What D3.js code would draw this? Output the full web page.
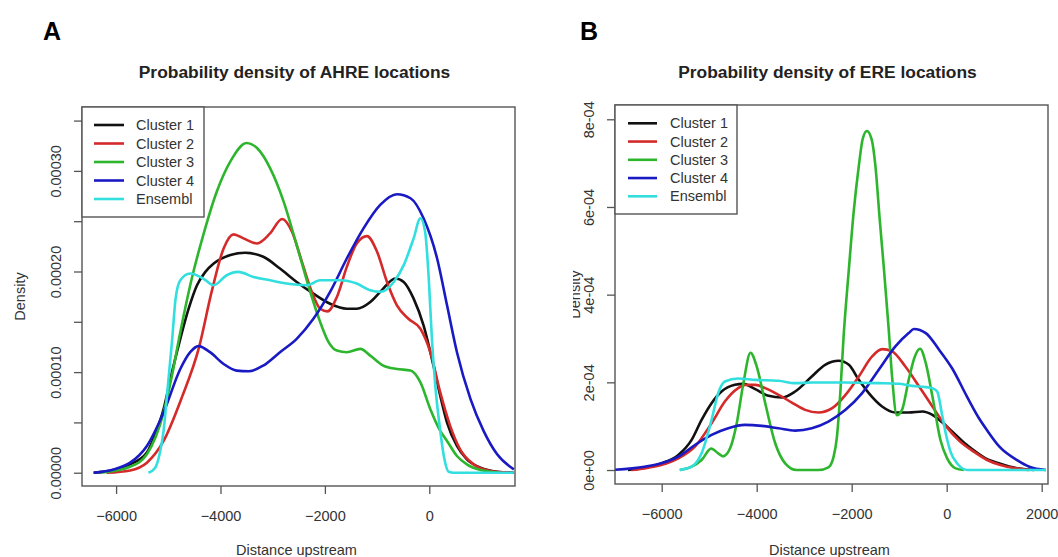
<!DOCTYPE html>
<html>
<head>
<meta charset="UTF-8">
<title>Probability density of AHRE / ERE locations</title>
<style>
  body { margin: 0; background: #fff; }
  svg { display: block; font-family: "Liberation Sans", Arial, sans-serif; }
</style>
</head>
<body>
<svg></svg>
<script src="https://d3js.org/d3.v7.min.js"></script>
<script>

let width = 1058, height = 557;

// legend / series
const seriesNames = ["Cluster 1", "Cluster 2", "Cluster 3", "Cluster 4", "Ensembl"];
const seriesColors = ["#111111", "#d42a2a", "#2eb52e", "#1a1ac4", "#32dede"];

// Panel A - AHRE, [distance upstream, density]
const ahreC1 = [[-6430,0],[-6050,2.7e-6],[-5730,8.3e-6],[-5410,2.0e-5],[-5250,3.83e-5],[-5090,6.32e-5],[-4930,9.98e-5],[-4770,1.331e-4],[-4610,1.630e-4],[-4450,1.863e-4],[-4290,1.996e-4],[-4130,2.079e-4],[-3810,2.163e-4],[-3530,2.186e-4],[-3180,2.146e-4],[-2860,2.029e-4],[-2540,1.896e-4],[-2220,1.780e-4],[-1900,1.680e-4],[-1580,1.630e-4],[-1390,1.630e-4],[-1130,1.697e-4],[-940,1.797e-4],[-650,1.930e-4],[-490,1.896e-4],[-300,1.730e-4],[-110,1.464e-4],[80,1.065e-4],[210,7.65e-5],[340,4.99e-5],[530,2.66e-5],[720,1.33e-5],[980,5.0e-6],[1300,1.0e-6],[1620,0]];
const ahreC2 = [[-6180,0],[-5730,2.3e-6],[-5410,1.0e-5],[-5090,3.16e-5],[-4740,7.49e-5],[-4410,1.248e-4],[-4170,1.797e-4],[-3940,2.229e-4],[-3750,2.369e-4],[-3560,2.329e-4],[-3300,2.279e-4],[-3050,2.379e-4],[-2820,2.522e-4],[-2630,2.395e-4],[-2440,2.096e-4],[-2250,1.797e-4],[-2090,1.630e-4],[-1950,1.604e-4],[-1770,1.747e-4],[-1580,2.046e-4],[-1390,2.279e-4],[-1195,2.352e-4],[-1000,2.196e-4],[-810,1.896e-4],[-620,1.664e-4],[-400,1.530e-4],[-170,1.431e-4],[20,1.198e-4],[210,7.98e-5],[400,4.66e-5],[590,2.33e-5],[850,8.3e-6],[1170,1.7e-6],[1550,0]];
const ahreC3 = [[-6310,0],[-5730,6.0e-6],[-5410,1.83e-5],[-5090,5.99e-5],[-4930,9.65e-5],[-4770,1.397e-4],[-4550,1.930e-4],[-4330,2.362e-4],[-4070,2.795e-4],[-3810,3.094e-4],[-3500,3.277e-4],[-3300,3.227e-4],[-3050,3.028e-4],[-2790,2.695e-4],[-2540,2.262e-4],[-2280,1.797e-4],[-2090,1.497e-4],[-1930,1.298e-4],[-1770,1.214e-4],[-1580,1.198e-4],[-1320,1.231e-4],[-1130,1.164e-4],[-880,1.065e-4],[-620,1.031e-4],[-360,1.015e-4],[-170,8.98e-5],[20,6.32e-5],[210,4.16e-5],[340,3.16e-5],[530,1.66e-5],[720,8.3e-6],[980,2.7e-6],[1360,0]];
const ahreC4 = [[-6430,0],[-6050,3.3e-6],[-5730,1.0e-5],[-5410,2.66e-5],[-5090,5.99e-5],[-4770,1.031e-4],[-4580,1.198e-4],[-4420,1.258e-4],[-4200,1.198e-4],[-3940,1.081e-4],[-3690,1.015e-4],[-3460,1.008e-4],[-3180,1.065e-4],[-2860,1.198e-4],[-2540,1.331e-4],[-2220,1.530e-4],[-1900,1.797e-4],[-1580,2.129e-4],[-1260,2.429e-4],[-940,2.662e-4],[-620,2.768e-4],[-360,2.728e-4],[-110,2.529e-4],[150,2.129e-4],[340,1.664e-4],[530,1.198e-4],[790,7.32e-5],[1040,4.16e-5],[1300,1.83e-5],[1620,3.3e-6]];
const ahreEns = [[-5380,0],[-5250,5.0e-6],[-5160,2.0e-5],[-5090,4.16e-5],[-5020,7.98e-5],[-4930,1.298e-4],[-4860,1.730e-4],[-4770,1.913e-4],[-4580,1.980e-4],[-4330,1.930e-4],[-4130,1.863e-4],[-3880,1.963e-4],[-3660,1.996e-4],[-3370,1.946e-4],[-3050,1.913e-4],[-2730,1.880e-4],[-2350,1.863e-4],[-2090,1.913e-4],[-1710,1.913e-4],[-1390,1.880e-4],[-1130,1.813e-4],[-940,1.797e-4],[-680,1.896e-4],[-490,2.063e-4],[-300,2.329e-4],[-170,2.529e-4],[-80,2.395e-4],[-10,1.930e-4],[50,1.331e-4],[115,8.65e-5],[210,4.16e-5],[290,1.33e-5],[370,1.0e-6],[470,0],[1620,0]];

// Panel B - ERE
const ereC1 = [[-6710,0],[-6360,5.3e-6],[-6010,1.52e-5],[-5650,3.43e-5],[-5370,6.86e-5],[-5160,1.143e-4],[-4950,1.524e-4],[-4740,1.791e-4],[-4460,1.943e-4],[-4280,1.966e-4],[-4030,1.844e-4],[-3750,1.692e-4],[-3470,1.654e-4],[-3190,1.791e-4],[-2840,2.134e-4],[-2560,2.400e-4],[-2270,2.492e-4],[-2060,2.400e-4],[-1850,2.057e-4],[-1640,1.753e-4],[-1360,1.448e-4],[-1080,1.311e-4],[-800,1.311e-4],[-510,1.334e-4],[-300,1.257e-4],[-90,1.082e-4],[120,8.76e-5],[400,5.94e-5],[570,4.50e-5],[820,2.67e-5],[1130,1.45e-5],[1460,4.6e-6],[1840,0]];
const ereC2 = [[-6640,0],[-6360,3.8e-6],[-6010,1.14e-5],[-5650,2.67e-5],[-5300,5.33e-5],[-4950,1.067e-4],[-4670,1.562e-4],[-4390,1.867e-4],[-4250,1.943e-4],[-4030,1.943e-4],[-3820,1.867e-4],[-3540,1.715e-4],[-3260,1.539e-4],[-2980,1.372e-4],[-2700,1.311e-4],[-2410,1.410e-4],[-2130,1.715e-4],[-1850,2.134e-4],[-1570,2.591e-4],[-1360,2.758e-4],[-1150,2.705e-4],[-870,2.362e-4],[-580,1.905e-4],[-300,1.448e-4],[-20,1.006e-4],[260,6.71e-5],[570,4.19e-5],[850,2.29e-5],[1130,1.14e-5],[1460,3.8e-6],[1740,0]];
const ereC3 = [[-5620,0],[-5370,7.6e-6],[-5160,2.29e-5],[-4960,4.88e-5],[-4810,3.81e-5],[-4710,3.12e-5],[-4560,4.95e-5],[-4420,1.067e-4],[-4280,1.981e-4],[-4130,2.675e-4],[-4000,2.362e-4],[-3820,1.524e-4],[-3610,6.1e-5],[-3400,1.52e-5],[-3160,0],[-2700,0],[-2490,6.1e-6],[-2380,3.05e-5],[-2310,7.62e-5],[-2240,1.753e-4],[-2170,3.048e-4],[-2060,4.572e-4],[-1960,5.867e-4],[-1850,6.934e-4],[-1770,7.544e-4],[-1680,7.734e-4],[-1580,7.544e-4],[-1500,6.934e-4],[-1410,5.715e-4],[-1320,4.572e-4],[-1220,3.200e-4],[-1150,2.134e-4],[-1050,1.250e-4],[-940,1.372e-4],[-800,2.057e-4],[-670,2.591e-4],[-560,2.766e-4],[-440,2.438e-4],[-300,1.676e-4],[-130,6.78e-5],[10,2.67e-5],[190,3.8e-6],[360,0]];
const ereC4 = [[-7060,0],[-6360,7.6e-6],[-6010,1.52e-5],[-5650,3.05e-5],[-5300,5.71e-5],[-4950,8.0e-5],[-4600,9.53e-5],[-4250,1.029e-4],[-3890,1.006e-4],[-3540,9.53e-5],[-3190,8.99e-5],[-2840,9.53e-5],[-2490,1.105e-4],[-2130,1.372e-4],[-1780,1.753e-4],[-1430,2.286e-4],[-1080,2.819e-4],[-800,3.124e-4],[-690,3.216e-4],[-440,3.124e-4],[-160,2.743e-4],[120,2.309e-4],[430,1.669e-4],[680,1.181e-4],[850,9.07e-5],[1110,5.33e-5],[1490,2.21e-5],[1740,7.6e-6],[2090,0]];
const ereEns = [[-5620,0],[-5370,7.6e-6],[-5160,3.81e-5],[-4950,1.143e-4],[-4810,1.753e-4],[-4670,2.019e-4],[-4390,2.088e-4],[-4030,2.057e-4],[-3540,2.035e-4],[-3190,1.981e-4],[-2840,1.996e-4],[-2130,1.996e-4],[-1430,1.981e-4],[-1010,1.966e-4],[-730,1.920e-4],[-440,1.890e-4],[-300,1.867e-4],[-200,1.791e-4],[-90,1.219e-4],[-20,8.38e-5],[80,4.19e-5],[230,1.37e-5],[440,0],[2090,0]];

// ticks
const ahreXTicks = [-6000, -4000, -2000, 0];
const ahreYTicks = [0, 0.00005, 0.0001, 0.00015, 0.0002, 0.00025, 0.0003, 0.00035];
const ahreYLabelled = [0, 0.0001, 0.0002, 0.0003];
const ereXTicks = [-6000, -4000, -2000, 0, 2000];
const ereYTicks = [0, 0.0002, 0.0004, 0.0006, 0.0008];
const ereYTickLabels = ["0e+00", "2e-04", "4e-04", "6e-04", "8e-04"];

let svg = d3.select("svg")
    .attr("width", width)
    .attr("height", height);

svg.append("rect").attr("width", width).attr("height", height).attr("fill", "#fff");

const panels = [
  {
    id: "A", letter: "A", letterX: 43, title: "Probability density of AHRE locations",
    series: [ahreC1, ahreC2, ahreC3, ahreC4, ahreEns],
    xDomain: [-6653, 1642], yDomain: [-1.32e-5, 3.635e-4],
    left: 82, right: 515, top: 107, bottom: 486,
    xTicks: ahreXTicks, yTicks: ahreYTicks,
    yFormat: d => ahreYLabelled.some(v => Math.abs(v - d) < 1e-9) ? d3.format(".5f")(d) : "",
    legendW: 122, legendH: 110, legendLine: [12, 42], legendText: 54, legendRow0: 18, legendStep: 18.5,
    yLabelX: 25, yLabelClip: 0
  },
  {
    id: "B", letter: "B", letterX: 580, title: "Probability density of ERE locations",
    series: [ereC1, ereC2, ereC3, ereC4, ereEns],
    xDomain: [-6983, 2133], yDomain: [-3.19e-5, 8.326e-4],
    left: 615, right: 1048, top: 105, bottom: 484,
    xTicks: ereXTicks, yTicks: ereYTicks,
    yFormat: d => ereYTickLabels[ereYTicks.indexOf(d)],
    legendW: 122, legendH: 109, legendLine: [13, 42], legendText: 55, legendRow0: 18.3, legendStep: 18.25,
    yLabelX: 580, yLabelClip: 573
  }
];

panels.forEach(p => {
  let g = svg.append("g").attr("id", "panel" + p.id);

  let x = d3.scaleLinear().domain(p.xDomain).range([p.left, p.right]);
  let y = d3.scaleLinear().domain(p.yDomain).range([p.bottom, p.top]);

  // panel letter + title
  g.append("text")
    .attr("x", p.letterX).attr("y", 40)
    .attr("font-size", 25).attr("font-weight", "bold")
    .text(p.letter);

  g.append("text")
    .attr("x", (p.left + p.right) / 2 - 4).attr("y", 78)
    .attr("text-anchor", "middle")
    .attr("font-size", 17.4).attr("font-weight", "bold")
    .attr("fill", "#222")
    .text(p.title);

  // curves
  g.append("clipPath").attr("id", "clip" + p.id)
    .append("rect")
    .attr("x", p.left).attr("y", p.top)
    .attr("width", p.right - p.left).attr("height", p.bottom - p.top);

  let line = d3.line()
    .x(d => x(d[0]))
    .y(d => y(d[1]))
    .curve(d3.curveMonotoneX);

  g.append("g")
    .attr("clip-path", "url(#clip" + p.id + ")")
    .selectAll("path")
    .data(p.series)
    .enter()
    .append("path")
    .attr("d", line)
    .attr("fill", "none")
    .attr("stroke", (d, i) => seriesColors[i])
    .attr("stroke-width", 2.6)
    .attr("stroke-linejoin", "round");

  // axes
  let xAxis = g.append("g")
    .attr("transform", "translate(0," + p.bottom + ")")
    .call(d3.axisBottom(x).tickValues(p.xTicks).tickSize(8).tickPadding(17).tickFormat(d3.format("d")));
  xAxis.select(".domain").remove();

  let yAxis = g.append("g")
    .attr("transform", "translate(" + p.left + ",0)")
    .call(d3.axisLeft(y).tickValues(p.yTicks).tickSize(8).tickFormat(p.yFormat));
  yAxis.select(".domain").remove();
  yAxis.selectAll("text")
    .attr("x", 0).attr("dy", 0)
    .attr("y", -21)
    .attr("transform", "rotate(-90)")
    .attr("text-anchor", "middle");

  [xAxis, yAxis].forEach(a => {
    a.selectAll("text").attr("font-size", 14.5).attr("fill", "#333").attr("font-family", null);
    a.selectAll("line").attr("stroke", "#555").attr("stroke-width", 1.3);
  });

  // plot box
  g.append("rect")
    .attr("x", p.left).attr("y", p.top)
    .attr("width", p.right - p.left).attr("height", p.bottom - p.top)
    .attr("fill", "none").attr("stroke", "#555").attr("stroke-width", 1.4);

  // axis titles
  g.append("text")
    .attr("x", (p.left + p.right) / 2 - 2).attr("y", 555)
    .attr("text-anchor", "middle")
    .attr("font-size", 14.5).attr("fill", "#333")
    .text("Distance upstream");

  // y title; panel B's is partly hidden behind the panel edge
  g.append("clipPath").attr("id", "ylab" + p.id)
    .append("rect")
    .attr("x", p.yLabelClip).attr("y", 0)
    .attr("width", p.left - p.yLabelClip).attr("height", height);

  g.append("g")
    .attr("clip-path", "url(#ylab" + p.id + ")")
    .append("text")
    .attr("transform", "translate(" + p.yLabelX + "," + ((p.top + p.bottom) / 2) + ") rotate(-90)")
    .attr("text-anchor", "middle")
    .attr("font-size", 14.5).attr("fill", "#333")
    .text("Density");

  // legend
  let lg = g.append("g").attr("transform", "translate(" + p.left + "," + p.top + ")");
  lg.append("rect")
    .attr("width", p.legendW).attr("height", p.legendH)
    .attr("fill", "#fff").attr("stroke", "#555").attr("stroke-width", 1.4);

  let rows = lg.selectAll(".row")
    .data(seriesNames)
    .enter()
    .append("g")
    .attr("transform", (d, i) => "translate(0," + (p.legendRow0 + i * p.legendStep) + ")");
  rows.append("line")
    .attr("x1", p.legendLine[0]).attr("x2", p.legendLine[1])
    .attr("stroke", (d, i) => seriesColors[i]).attr("stroke-width", 2.6);
  rows.append("text")
    .attr("x", p.legendText).attr("y", 5)
    .attr("font-size", 14.5).attr("fill", "#333")
    .text(d => d);
});

</script>
</body>
</html>
